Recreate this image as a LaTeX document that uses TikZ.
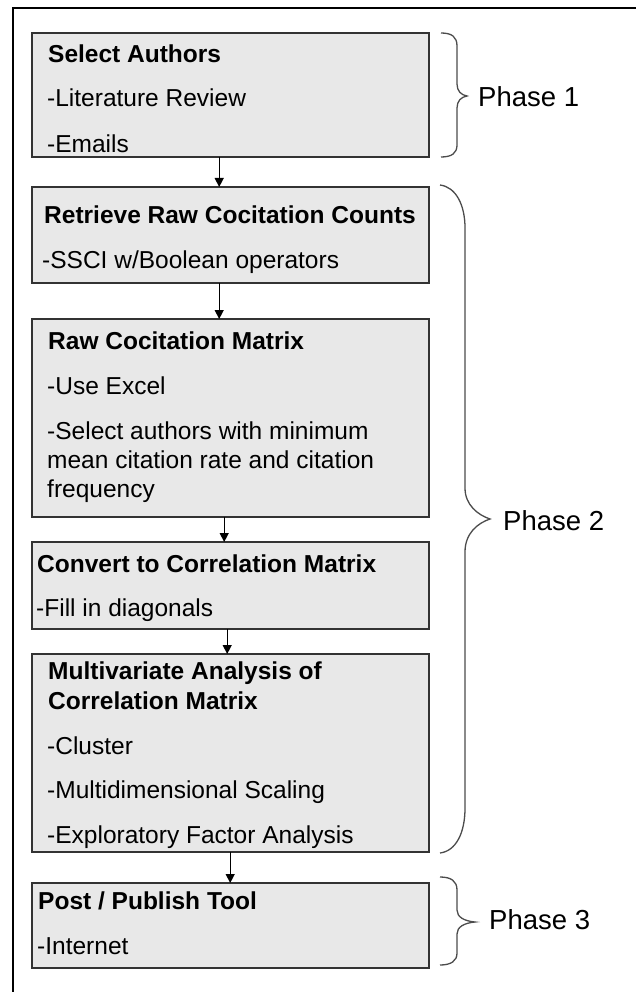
\documentclass[tikz,border=0pt]{standalone}
\usepackage{fontspec}
\setmainfont{Liberation Sans}
\usetikzlibrary{arrows.meta}

\begin{document}
\begin{tikzpicture}[x=1pt,y=-1pt,
  stepbox/.style={draw=black!80, line width=1.5pt, fill=black!9, rectangle, inner sep=0pt},
  txt/.style={anchor=base west, inner sep=0pt, font=\fontsize{24.5}{29}\selectfont},
  head/.style={txt, font=\fontsize{24.5}{29}\selectfont\bfseries},
  phase/.style={anchor=base west, inner sep=0pt, font=\fontsize{27.5}{32}\selectfont},
  flow/.style={line width=1.3pt, -{Triangle[length=9pt,width=9pt]}},
  bracestyle/.style={draw=black!70, line width=1.3pt}]

\useasboundingbox (0,0) rectangle (636,992);
\fill[white] (0,0) rectangle (636,992);

% outer frame (left and top edges)
\draw[line width=2.5pt] (13,992) -- (13,8) -- (636,8);

% process boxes
\path[stepbox] (32,33) rectangle (429,157);
\node[minimum width=397pt, minimum height=124pt, anchor=north west, inner sep=0pt] (b1) at (32,33) {};
\path[stepbox] (32,187) rectangle (429,283);
\node[minimum width=397pt, minimum height=96pt, anchor=north west, inner sep=0pt] (b2) at (32,187) {};
\path[stepbox] (32,319) rectangle (429,517);
\node[minimum width=397pt, minimum height=198pt, anchor=north west, inner sep=0pt] (b3) at (32,319) {};
\path[stepbox] (32,542) rectangle (429,629);
\node[minimum width=397pt, minimum height=87pt, anchor=north west, inner sep=0pt] (b4) at (32,542) {};
\path[stepbox] (32,654) rectangle (429,852);
\node[minimum width=397pt, minimum height=198pt, anchor=north west, inner sep=0pt] (b5) at (32,654) {};
\path[stepbox] (32,883) rectangle (429,968);
\node[minimum width=397pt, minimum height=85pt, anchor=north west, inner sep=0pt] (b6) at (32,883) {};

% box texts
\node[head] (t1a) at (48,63) {Select Authors};
\node[txt]  (t1b) at (47,107) {-Literature Review};
\node[txt]  (t1c) at (47,153) {-Emails};

\node[head] (t2a) at (44,224) {Retrieve Raw Cocitation Counts};
\node[txt]  (t2b) at (42,268) {-SSCI w/Boolean operators};

\node[head] (t3a) at (48,349) {Raw Cocitation Matrix};
\node[txt]  (t3b) at (47,394) {-Use Excel};
\node[txt]  (t3c) at (47,439) {-Select authors with minimum};
\node[txt]  (t3d) at (47,468) {mean citation rate and citation};
\node[txt]  (t3e) at (47,497) {frequency};

\node[head] (t4a) at (37,572) {Convert to Correlation Matrix};
\node[txt]  (t4b) at (36,616) {-Fill in diagonals};

\node[head] (t5a) at (48,679) {Multivariate Analysis of};
\node[head] (t5b) at (48,709) {Correlation Matrix};
\node[txt]  (t5c) at (47,754) {-Cluster};
\node[txt]  (t5d) at (47,798) {-Multidimensional Scaling};
\node[txt]  (t5e) at (47,843) {-Exploratory Factor Analysis};

\node[head] (t6a) at (38,909) {Post / Publish Tool};
\node[txt]  (t6b) at (37,954) {-Internet};

% flow arrows
\draw[flow] ([xshift=-11.5pt]b1.south) -- ([xshift=-11.5pt]b2.north);
\draw[flow] ([xshift=-11.5pt]b2.south) -- ([xshift=-11.5pt]b3.north);
\draw[flow] ([xshift=-6.5pt]b3.south) -- ([xshift=-6.5pt]b4.north);
\draw[flow] ([xshift=-3.5pt]b4.south) -- ([xshift=-3.5pt]b5.north);
\draw[flow] ([xshift=-0.5pt]b5.south) -- ([xshift=-0.5pt]b6.north);

% phase braces
\draw[bracestyle] (441,33) .. controls (452,33) and (457,37) .. (457,46) -- (457,84)
  .. controls (457,91) and (461,95) .. (467,96)
  .. controls (461,97) and (457,101) .. (457,108) -- (457,145)
  .. controls (457,153) and (452,157) .. (441,157);
\draw[bracestyle] (440,185) .. controls (456,187) and (465,205) .. (465,228) -- (465,488)
  .. controls (465,505) and (478,515) .. (490,519)
  .. controls (478,523) and (465,533) .. (465,552) -- (465,808)
  .. controls (465,833) and (456,851) .. (440,853);
\draw[bracestyle] (440,877) .. controls (451,877) and (457,881) .. (457,890) -- (457,910)
  .. controls (457,917) and (464,921) .. (475,922)
  .. controls (464,923) and (457,927) .. (457,934) -- (457,953)
  .. controls (457,961) and (451,965) .. (440,965);

% phase labels
\node[phase] (p1) at (478,107) {Phase 1};
\node[phase] (p2) at (503,530) {Phase 2};
\node[phase] (p3) at (489,929) {Phase 3};

\end{tikzpicture}
\end{document}
